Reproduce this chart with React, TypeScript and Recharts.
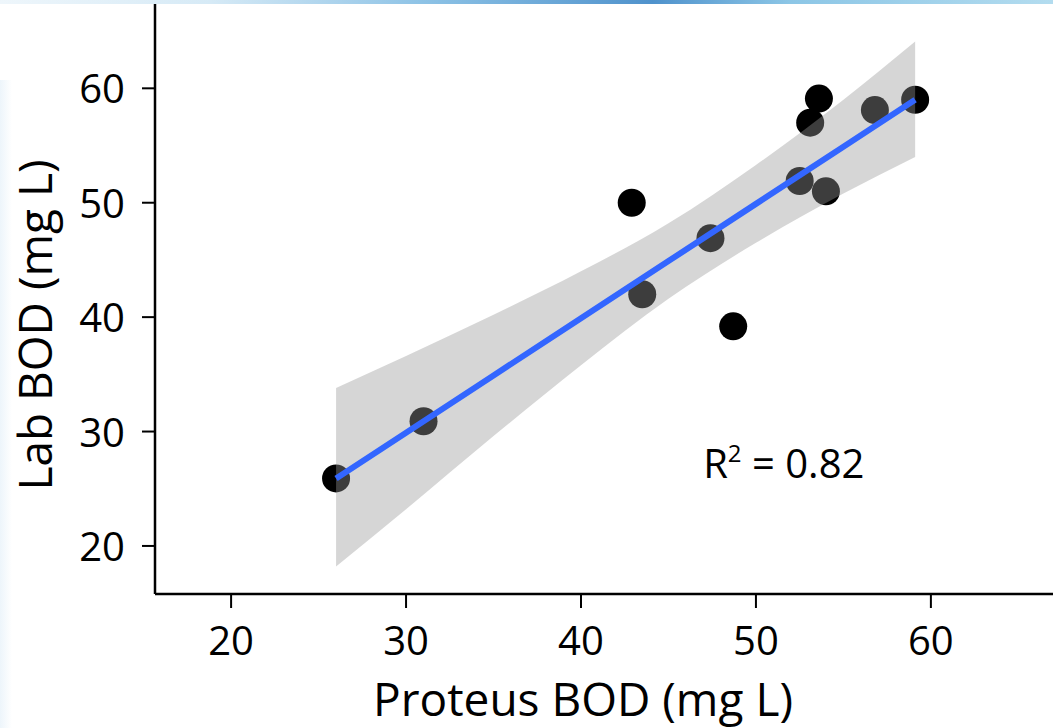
import React from "react";
import {
  ComposedChart,
  Scatter,
  Area,
  Line,
  XAxis,
  YAxis,
  Label,
  ReferenceDot,
} from "recharts";

// observed points: Proteus vs lab BOD
const proteusBOD = [26.0, 31.0, 42.9, 43.5, 47.4, 48.7, 52.5, 53.1, 53.6, 54.0, 56.8, 59.1];
const labBOD = [25.9, 30.9, 50.0, 42.0, 46.9, 39.2, 51.9, 57.0, 59.1, 51.0, 58.1, 59.0];

// linear fit with 95% band
const fitX = [26.0, 30, 35, 40, 45, 50, 55, 59.1];
const fitY = [25.9, 29.9, 34.9, 39.9, 44.9, 49.9, 54.9, 59.0];
const bandLow = [18.2, 23.2, 29.6, 35.8, 41.6, 46.5, 50.8, 54.0];
const bandHigh = [33.8, 36.6, 40.2, 44.0, 48.2, 53.3, 59.0, 64.1];

const xTicks = [20, 30, 40, 50, 60];
const yTicks = [20, 30, 40, 50, 60];

const FONT = "'Open Sans', sans-serif";

const points = proteusBOD.map((x, i) => ({ x, y: labBOD[i] }));
const fitRows = fitX.map((x, i) => ({
  x,
  fit: fitY[i],
  band: [bandLow[i], bandHigh[i]],
}));

const XTick = ({ x, y, payload }: any) => (
  <text x={x} y={y + 45} textAnchor="middle" fontSize={40} fontFamily={FONT} fill="#000">
    {payload.value}
  </text>
);

const YTick = ({ x, y, payload }: any) => (
  <text x={x - 15} y={y + 15} textAnchor="end" fontSize={40} fontFamily={FONT} fill="#000">
    {payload.value}
  </text>
);

const Dot = (props: any) => {
  const { cx, cy } = props;
  if (cx == null || cy == null) return <g />;
  return <circle cx={cx} cy={cy} r={14} fill="#000" />;
};

export default function App() {
  return (
    <div style={{ position: "fixed", top: 0, left: 0, width: 1053, height: 728, background: "#fff" }}>
      <div
        style={{
          position: "absolute",
          top: 0,
          left: 0,
          width: 1053,
          height: 4,
          background:
            "linear-gradient(90deg, #eef6fb 0%, #d6eaf6 20%, #8ec3e6 40%, #4f92cc 62%, #8cc6e6 75%, #b3dcef 100%)",
        }}
      />
      <div
        style={{
          position: "absolute",
          top: 80,
          left: 0,
          width: 12,
          height: 648,
          background: "linear-gradient(90deg, #edf5fb 0%, rgba(255,255,255,0) 100%)",
        }}
      />
      <ComposedChart
        width={1053}
        height={728}
        data={fitRows}
        margin={{ top: 4, right: 0, bottom: 0, left: 0 }}
        style={{ position: "absolute", top: 0, left: 0 }}
      >
        <XAxis
          dataKey="x"
          type="number"
          domain={[15.65, 66.98]}
          ticks={xTicks}
          allowDataOverflow
          height={134}
          axisLine={{ stroke: "#000", strokeWidth: 2.5 }}
          tickLine={{ stroke: "#000", strokeWidth: 2 }}
          tickSize={14}
          tick={<XTick />}
        >
          <Label
            content={() => (
              <text x={583} y={716} textAnchor="middle" fontSize={46} fontFamily={FONT} fill="#000">
                Proteus BOD (mg L)
              </text>
            )}
          />
        </XAxis>
        <YAxis
          type="number"
          domain={[15.8, 67.37]}
          ticks={yTicks}
          allowDataOverflow
          width={155}
          axisLine={{ stroke: "#000", strokeWidth: 2.5 }}
          tickLine={{ stroke: "#000", strokeWidth: 2 }}
          tickSize={13}
          tick={<YTick />}
        >
          <Label
            content={() => (
              <text
                x={52}
                y={325}
                transform="rotate(-90, 52, 325)"
                textAnchor="middle"
                fontSize={46}
                fontFamily={FONT}
                fill="#000"
              >
                Lab BOD (mg L)
              </text>
            )}
          />
        </YAxis>

        {/* points sit under the band, as in ggplot */}
        <Scatter
          data={points}
          dataKey="y"
          shape={<Dot />}
          zIndex={50}
          isAnimationActive={false}
        />
        <Area
          type="monotone"
          dataKey="band"
          stroke="none"
          fill="#999999"
          fillOpacity={0.4}
          activeDot={false}
          zIndex={100}
          isAnimationActive={false}
        />
        <Line
          type="linear"
          dataKey="fit"
          stroke="#3366FF"
          strokeWidth={6}
          dot={false}
          activeDot={false}
          zIndex={400}
          isAnimationActive={false}
        />

        <ReferenceDot
          x={51.5}
          y={27.2}
          r={0}
          stroke="none"
          label={(p: any) => {
            const vb = p.viewBox || {};
            const cx = vb.x + (vb.width || 0) / 2;
            const cy = vb.y + (vb.height || 0) / 2;
            return (
              <text x={cx - 79} y={cy + 14} fontSize={40} fontFamily={FONT} fill="#000">
                R
                <tspan fontSize={24} dy={-16}>2</tspan>
                <tspan dy={16}> = 0.82</tspan>
              </text>
            );
          }}
        />
      </ComposedChart>
    </div>
  );
}
